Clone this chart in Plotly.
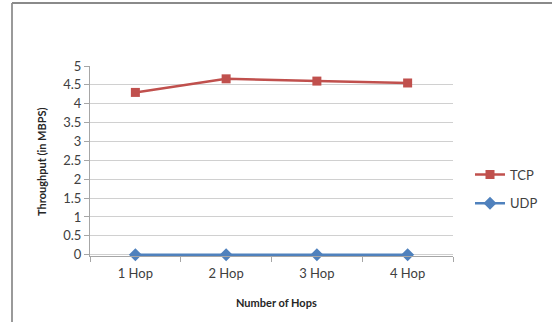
import plotly.graph_objects as go

categories = ["1 Hop", "2 Hop", "3 Hop", "4 Hop"]
tcp = [4.3, 4.66, 4.6, 4.55]
udp = [0, 0, 0, 0]
y_ticks = [0, 0.5, 1, 1.5, 2, 2.5, 3, 3.5, 4, 4.5, 5]
y_labels = ["0", "0.5", "1", "1.5", "2", "2.5", "3", "3.5", "4", "4.5", "5"]

FONT = "Lato, Carlito, Liberation Sans, sans-serif"

fig = go.Figure()
fig.add_trace(go.Scatter(
    x=categories, y=tcp, name="TCP", mode="lines+markers",
    line=dict(color="#c0504d", width=2.5),
    marker=dict(symbol="square", size=9, color="#c0504d"),
    cliponaxis=False, legendgroup="tcp",
))
fig.add_trace(go.Scatter(
    x=categories, y=udp, name="UDP", mode="lines+markers",
    line=dict(color="#4f81bd", width=2.5),
    marker=dict(symbol="diamond", size=10, color="#4f81bd"),
    cliponaxis=False, legendgroup="udp",
))

L, R, T, B = 90, 99, 66, 66
W, H = 552, 322
pw, ph = W - L - R, H - T - B

def px(x):
    return (x - L) / pw

def py(y):
    return (H - B - y) / ph

fig.update_layout(
    width=W, height=H,
    margin=dict(l=L, r=R, t=T, b=B, autoexpand=False),
    paper_bgcolor="white", plot_bgcolor="white",
    font=dict(family=FONT, size=13, color="#404040"),
    showlegend=True,
    legend=dict(
        x=px(470), xanchor="left", y=py(189), yanchor="middle",
        font=dict(family=FONT, size=13, color="#404040"),
        bgcolor="rgba(0,0,0,0)", itemwidth=30, tracegroupgap=9,
    ),
    xaxis=dict(
        type="category", range=[-0.5, 3.5],
        showline=True, linecolor="#a6a6a6", linewidth=1,
        ticks="outside", ticklen=5, tickcolor="#a6a6a6",
        tickson="boundaries", showgrid=False,
        ticklabelstandoff=5,
        tickfont=dict(family=FONT, size=13, color="#404040"),
        fixedrange=True,
    ),
    yaxis=dict(
        range=[-0.035, 5], tickvals=y_ticks, ticktext=y_labels,
        showline=True, linecolor="#a6a6a6", linewidth=1,
        ticks="outside", ticklen=5, tickcolor="#a6a6a6",
        showgrid=True, gridcolor="#d0d0d0", gridwidth=1,
        zeroline=False,
        tickfont=dict(family=FONT, size=13, color="#404040"),
        fixedrange=True,
    ),
    shapes=[
        dict(type="line", xref="paper", yref="paper",
             x0=px(12), x1=px(12), y0=py(H + 5), y1=py(3),
             line=dict(color="#9a9a9a", width=2)),
        dict(type="line", xref="paper", yref="paper",
             x0=px(12), x1=px(W + 5), y0=py(3), y1=py(3),
             line=dict(color="#8a8a8a", width=2)),
    ],
    annotations=[
        dict(text="<b>Throughput (in MBPS)</b>", xref="paper", yref="paper",
             x=px(41), y=py(162), textangle=-90, showarrow=False,
             font=dict(family=FONT, size=11, color="#262626"),
             xanchor="center", yanchor="middle"),
        dict(text="<b>Number of Hops</b>", xref="paper", yref="paper",
             x=px(276), y=py(302), showarrow=False,
             font=dict(family=FONT, size=11, color="#262626"),
             xanchor="center", yanchor="middle"),
    ],
)

fig.write_html("out.html")
